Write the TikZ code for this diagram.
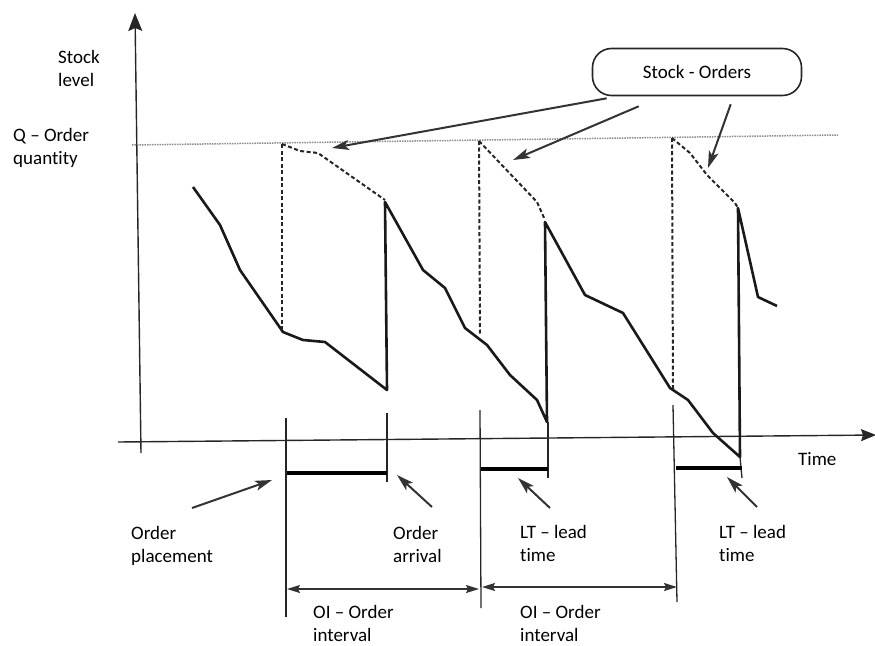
\documentclass[tikz,border=0pt]{standalone}
\usepackage{fontspec}
\setmainfont{Carlito}[Ligatures={NoCommon}]
\usetikzlibrary{arrows.meta,calc}
\begin{document}
\begin{tikzpicture}[x=1pt,y=-1pt,
  txt/.style={font=\fontsize{19}{23}\selectfont, align=left, inner sep=0pt, anchor=base west},
  axisline/.style={line width=1.4pt, draw=black!85},
  stockline/.style={line width=2.6pt, draw=black!90, line join=round},
  orderdash/.style={line width=2pt, draw=black!85, dash pattern=on 4pt off 2.5pt},
  qline/.style={line width=1.5pt, draw=black!45, dash pattern=on 1.5pt off 1pt},
  tickline/.style={line width=1.3pt, draw=black!85},
  leadbar/.style={line width=3.5pt, draw=black},
  pointer/.style={line width=2pt, draw=black!80, -{Stealth[length=17pt,width=10pt,inset=4pt]}},
  dimline/.style={line width=1.5pt, draw=black!80,
    {Stealth[length=13pt,width=8pt,inset=2pt]}-{Stealth[length=13pt,width=8pt,inset=2pt]}},
]
\useasboundingbox (0,0) rectangle (875,645);
\clip (0,0) rectangle (875,645);

% axes
\coordinate (yb) at (141,453);
\coordinate (yt) at (135,13);
\draw[axisline, -{Stealth[length=18pt,width=14pt,inset=3pt]}] (yb) -- (yt);
\coordinate (xl) at (118,442);
\coordinate (xr) at (876,435);
\draw[axisline, -{Stealth[length=15pt,width=12pt,inset=2pt]}] (xl) -- (xr);

% order quantity level
\coordinate (ql) at (132,145);
\coordinate (qr) at (838,135);
\draw[qline] (ql) -- (qr);

% stock level over time
\draw[stockline] (193,187) -- (220,225) -- (240,270) -- (283,332) -- (303,340)
  -- (325,342) -- (387,390) -- (385,202) -- (423,270) -- (445,288) -- (465,328)
  -- (487,345) -- (510,375) -- (537,400) -- (547,422) -- (545,222) -- (585,295)
  -- (623,313) -- (670,388) -- (688,400) -- (713,433) -- (740,457) -- (738,208)
  -- (758,297) -- (777,306);

% stock plus outstanding orders
\draw[orderdash] (282,144) -- (282,330);
\draw[orderdash] (282,144) -- (300,151) -- (318,153) -- (385,200);
\draw[orderdash] (479,141) -- (480,334);
\draw[orderdash] (479,141) -- (537,202) -- (545,220);
\draw[orderdash] (672,138) -- (673,389);
\draw[orderdash] (672,138) -- (690,153) -- (707,175) -- (735,203) -- (738,208);

% ticks on the time axis
\coordinate (p1) at (286,418); \coordinate (p1b) at (286,617);
\coordinate (a1) at (387,413); \coordinate (a1b) at (387,482);
\coordinate (p2) at (480,410); \coordinate (p2b) at (481,608);
\coordinate (a2) at (548,422); \coordinate (a2b) at (548,478);
\coordinate (p3) at (673,405); \coordinate (p3b) at (677,602);
\coordinate (a3) at (740,457); \coordinate (a3b) at (742,478);
\draw[tickline] (p1) -- (p1b);
\draw[tickline] (a1) -- (a1b);
\draw[tickline] (p2) -- (p2b);
\draw[tickline] (a2) -- (a2b);
\draw[tickline] (p3) -- (p3b);
\draw[tickline] (a3) -- (a3b);

% lead time bars
\draw[leadbar] (287,473) -- (387,473);
\draw[leadbar] (481,469) -- (548,469);
\draw[leadbar] (676,468) -- (742,468);

% order intervals
\coordinate (o1l) at (287,589); \coordinate (o1r) at (479,589);
\coordinate (o2l) at (482,587); \coordinate (o2r) at (677,587);
\draw[dimline] (o1l) -- (o1r);
\draw[dimline] (o2l) -- (o2r);

% labels (anchored at the baseline of their last line)
\node[txt] (stk) at (58,86) {Stock\\level};
\node[txt] (qty) at (13,164) {Q – Order\\quantity};
\node[txt] (tim) at (798,465) {Time};
\node[txt] (opl) at (131,562) {Order\\placement};
\node[txt] (oar) at (393,562) {Order\\arrival};
\node[txt] (lt1) at (520,561) {LT – lead\\time};
\node[txt] (lt2) at (719,561) {LT – lead\\time};
\node[txt] (oi1) at (313,641) {OI – Order\\interval};
\node[txt] (oi2) at (520,641) {OI – Order\\interval};

\node[draw=black!85, line width=1.6pt, rounded corners=19pt, minimum width=209pt,
  minimum height=47pt, inner sep=0pt, font=\fontsize{19}{23}\selectfont]
  (so) at (697,72) {Stock - Orders};

% pointers from the callout
\coordinate (t1) at (332,148);
\coordinate (t2) at (513,160);
\coordinate (t3) at (708,168);
\draw[pointer] ($(so.south west)+(15,2)$) -- (t1);
\draw[pointer] ($(so.south west)+(47,10)$) -- (t2);
\draw[pointer] ($(so.south west)+(139,8)$) -- (t3);

% pointers to the lead time bars
\coordinate (b1s) at (192,508); \coordinate (b1) at (272,480);
\coordinate (b2s) at (432,507); \coordinate (b2) at (397,475);
\coordinate (b3s) at (550,508); \coordinate (b3) at (518,478);
\coordinate (b4s) at (757,507); \coordinate (b4) at (727,477);
\draw[pointer] (b1s) -- (b1);
\draw[pointer] (b2s) -- (b2);
\draw[pointer] (b3s) -- (b3);
\draw[pointer] (b4s) -- (b4);
\end{tikzpicture}
\end{document}
